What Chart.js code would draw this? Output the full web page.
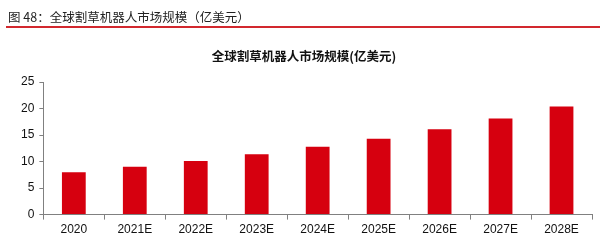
<!DOCTYPE html>
<html>
<head>
<meta charset="utf-8">
<script src="https://cdn.jsdelivr.net/npm/chart.js@4"></script>
<style>
  html, body { margin: 0; padding: 0; background: #fff; }
  #wrap { position: relative; width: 600px; height: 240px; }
  #header {
    position: absolute; left: 6px; right: 0; top: 9px;
    font: 12.5px "Noto Sans CJK SC", sans-serif; color: #222;
    line-height: 16px; padding-left: 2px;
    border-bottom: 2px solid #d2282e; padding-bottom: 1px;
  }
  canvas { position: absolute; left: 0; top: 0; }
</style>
</head>
<body>
<div id="wrap">
  <canvas id="marketChart" width="600" height="240"></canvas>
  <div id="header">图 48：全球割草机器人市场规模（亿美元）</div>
</div>
<script>
// Chart values
const years = ['2020', '2021E', '2022E', '2023E', '2024E', '2025E', '2026E', '2027E', '2028E'];
const marketSize = [8.0, 9.0, 10.1, 11.4, 12.8, 14.3, 16.1, 18.1, 20.4];
const yTicks = [0, 5, 10, 15, 20, 25];

const axisGray = '#808080';

const marketChart = new Chart(document.getElementById('marketChart'), {
    type: 'bar',
    data: {
        labels: years,
        datasets: [{
            data: marketSize,
            backgroundColor: '#d6000f',
            borderWidth: 0,
            categoryPercentage: 1,
            barPercentage: 0.39
        }]
    },
    options: {
        responsive: false,
        animation: false,
        layout: { padding: { left: 16, right: 8, top: 49, bottom: 0 } },
        plugins: {
            legend: { display: false },
            tooltip: { enabled: false },
            title: {
                display: true,
                text: '全球割草机器人市场规模(亿美元)',
                color: '#111',
                font: { family: '"Noto Sans CJK SC", sans-serif', size: 12.5, weight: 'bold' },
                padding: { top: 0, bottom: 18 }
            }
        },
        scales: {
            x: {
                grid: { drawOnChartArea: false, drawTicks: true, tickLength: 5, color: axisGray, offset: true },
                border: { color: axisGray },
                ticks: { color: '#111', padding: 3, font: { family: '"Liberation Sans", Arial, sans-serif', size: 12 } }
            },
            y: {
                min: 0,
                max: 25,
                afterBuildTicks: function(axis) {
                    axis.ticks = yTicks.map(v => ({ value: v }));
                },
                grid: { drawOnChartArea: false, drawTicks: true, tickLength: 4, color: axisGray },
                border: { color: axisGray },
                ticks: { color: '#111', padding: 5, font: { family: '"Liberation Sans", Arial, sans-serif', size: 12 } }
            }
        }
    }
});
</script>
</body>
</html>
